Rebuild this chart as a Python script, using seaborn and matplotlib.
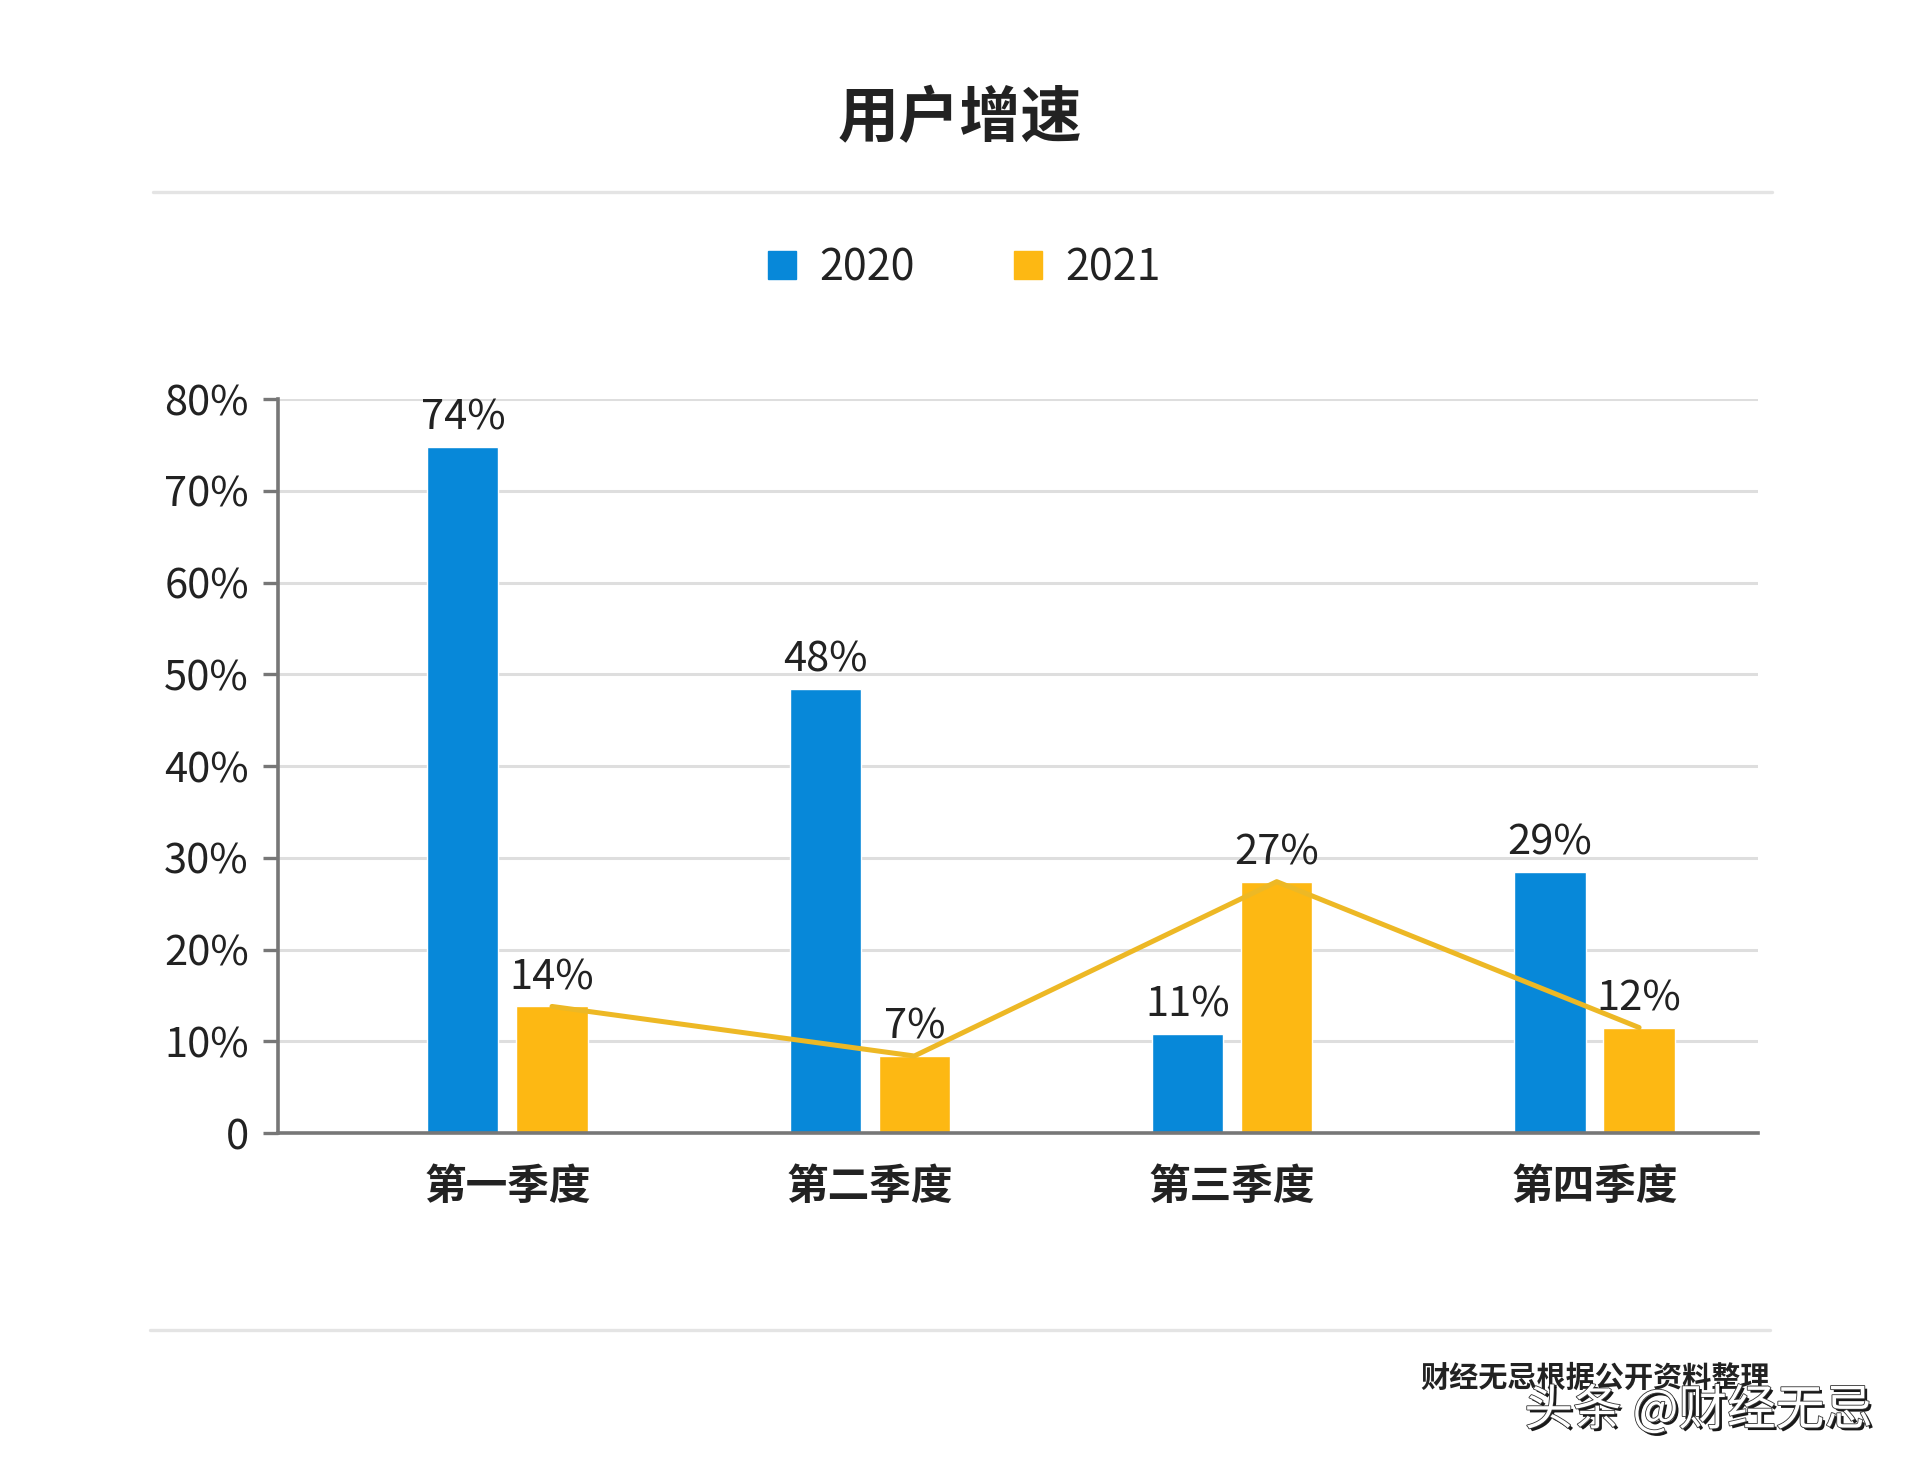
import numpy as np
import pandas as pd
import matplotlib
matplotlib.use("Agg")
import matplotlib.pyplot as plt
import matplotlib.patheffects as pe
from matplotlib.lines import Line2D
import seaborn as sns

# ---------------- 数据 ----------------
quarters = ["第一季度", "第二季度", "第三季度", "第四季度"]
years = ["2020", "2021"]
growth_2020 = [74.8, 48.4, 10.8, 28.5]
growth_2021 = [13.8, 8.4, 27.4, 11.5]
labels_2020 = ["74%", "48%", "11%", "29%"]
labels_2021 = ["14%", "7%", "27%", "12%"]
yticks = [0, 10, 20, 30, 40, 50, 60, 70, 80]
ytick_labels = ["0", "10%", "20%", "30%", "40%", "50%", "60%", "70%", "80%"]

BLUE = "#0788D9"
YELLOW = "#FDB813"
LINE = "#EDB825"
TEXT = "#222222"
AXIS = "#777777"
GRID = "#DEDEDE"

df = pd.DataFrame({
    "季度": quarters * 2,
    "年份": [years[0]] * 4 + [years[1]] * 4,
    "增速": growth_2020 + growth_2021,
})

sns.set_theme(style="white")
plt.rcParams["font.family"] = ["Noto Sans CJK SC", "DejaVu Sans"]

fig = plt.figure(figsize=(19.2, 14.74), dpi=100)
ax = fig.add_axes([0.1448, 0.2313, 0.7708, 0.498])

sns.barplot(data=df, x="季度", y="增速", hue="年份", palette=[BLUE, YELLOW],
            width=0.492, gap=0.2, saturation=1, ax=ax, legend=False, zorder=2)

# 折线：穿过 2021 柱子顶部中点
bars21 = ax.containers[1]
xs = [b.get_x() + b.get_width() / 2 for b in bars21]
ax.plot(xs, growth_2021, color=LINE, lw=3.6, zorder=3, solid_capstyle="round")

# 数据标签
ax.bar_label(ax.containers[0], labels=labels_2020, padding=6, fontsize=30, color=TEXT)
ax.bar_label(ax.containers[1], labels=labels_2021, padding=6, fontsize=30, color=TEXT)

ax.set_xlim(-0.633, 3.451)
ax.set_ylim(0, 80)
ax.set_yticks(yticks)
ax.set_yticklabels(ytick_labels)
ax.set_xlabel("")
ax.set_ylabel("")

ax.yaxis.grid(True, color=GRID, lw=2.2, zorder=0)
ax.set_axisbelow(True)
for s in ["top", "right"]:
    ax.spines[s].set_visible(False)
for s in ["left", "bottom"]:
    ax.spines[s].set_color(AXIS)
    ax.spines[s].set_linewidth(2.6)
    ax.spines[s].set_zorder(4)

ax.tick_params(axis="y", length=11, width=2.4, color=AXIS, pad=10,
               labelsize=30, labelcolor=TEXT, left=True)
ax.tick_params(axis="x", length=0, pad=24, labelsize=30, labelcolor=TEXT)
for t in ax.get_xticklabels():
    t.set_fontweight("bold")

# 图例
handles = [Line2D([], [], marker="s", ls="", ms=20, color=BLUE),
           Line2D([], [], marker="s", ls="", ms=20, color=YELLOW)]
fig.legend(handles, years, loc="center", bbox_to_anchor=(0.502, 0.818), ncol=2,
           frameon=False, fontsize=31, handlelength=0.7, handletextpad=0.5,
           columnspacing=2.3, labelcolor=TEXT)

# 标题与分隔线
fig.text(0.5, 1 - 119 / 1474, "用户增速", ha="center", va="center",
         fontsize=44, fontweight="bold", color=TEXT)
fig.add_artist(Line2D([153 / 1920, 1772 / 1920], [1 - 192 / 1474] * 2,
                      color="#E4E4E4", lw=2.4))
fig.add_artist(Line2D([150 / 1920, 1770 / 1920], [1 - 1330 / 1474] * 2,
                      color="#E4E4E4", lw=2.4))

# 来源与水印
fig.text(1770 / 1920, 1 - 1378 / 1474, "财经无忌根据公开资料整理", ha="right",
         va="center", fontsize=21, fontweight="bold", color=TEXT)
fig.text(1873 / 1920, 1 - 1411 / 1474, "头条 @财经无忌", ha="right", va="center",
         fontsize=35, color="white",
         path_effects=[pe.withSimplePatchShadow(offset=(2, -2), shadow_rgbFace="black", alpha=0.9),
                       pe.Stroke(linewidth=1.2, foreground="#333333"), pe.Normal()])

fig.savefig("out.png", dpi=100, facecolor="white")
